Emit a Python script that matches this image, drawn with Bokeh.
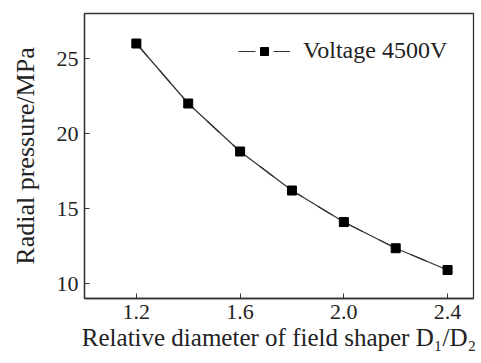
from bokeh.plotting import figure
from bokeh.models import (Range1d, FixedTicker, Legend, LegendItem, NumeralTickFormatter,
                          ColumnDataSource)
from bokeh.embed import file_html
from bokeh.resources import INLINE

ratio = [1.2, 1.4, 1.6, 1.8, 2.0, 2.2, 2.4]
pressure = [26.0, 22.0, 18.8, 16.2, 14.1, 12.35, 10.9]
x_ticks = [1.2, 1.6, 2.0, 2.4]
y_ticks = [10, 15, 20, 25]
series_label = "Voltage 4500V"

FONT = "Liberation Serif"
INK = "#222222"
LINE = "#333333"

src = ColumnDataSource(data=dict(x=ratio, y=pressure))

p = figure(width=481, height=363, output_backend="svg", toolbar_location=None,
           x_range=Range1d(1.0, 2.5), y_range=Range1d(9, 28),
           min_border_left=84, min_border_right=8, min_border_top=13, min_border_bottom=65)
p.grid.visible = False
p.outline_line_color = LINE
p.outline_line_width = 1.3

# dashed copy (hidden under the solid line) only serves as the legend key "— ■ —"
r_key = p.line("x", "y", source=src, line_color=LINE, line_width=1.2, line_dash="17 18")
r_line = p.line("x", "y", source=src, line_color=LINE, line_width=1.2)
r_pts = p.scatter("x", "y", source=src, marker="square", size=9, fill_color="black", line_color="black")

for ax in (p.xaxis[0], p.yaxis[0]):
    ax.major_tick_in = 5
    ax.major_tick_out = 0
    ax.minor_tick_line_color = None
    ax.axis_line_color = LINE
    ax.axis_line_width = 1.3
    ax.major_tick_line_color = LINE
    ax.major_label_text_font = FONT
    ax.major_label_text_font_size = "22px"
    ax.major_label_text_color = INK
    ax.axis_label_text_font = FONT
    ax.axis_label_text_font_style = "normal"
    ax.axis_label_text_color = INK

p.xaxis[0].axis_label_text_font_size = "25px"
p.yaxis[0].axis_label_text_font_size = "26px"
p.xaxis[0].ticker = FixedTicker(ticks=x_ticks)
p.yaxis[0].ticker = FixedTicker(ticks=y_ticks)
p.xaxis[0].formatter = NumeralTickFormatter(format="0.0")
p.xaxis[0].axis_label = "Relative diameter of field shaper D\u2081/D\u2082"
p.yaxis[0].axis_label = "Radial pressure/MPa"
p.xaxis[0].major_label_standoff = 6
p.yaxis[0].major_label_standoff = 6
p.xaxis[0].axis_label_standoff = 2
p.yaxis[0].axis_label_standoff = 14

legend = Legend(items=[LegendItem(label=series_label, renderers=[r_key, r_pts])],
                location=(154, 234), border_line_color=None, background_fill_alpha=0,
                label_text_font=FONT, label_text_font_size="24px", label_text_color=INK,
                glyph_width=52, glyph_height=20, label_height=20,
                label_standoff=13, margin=0, padding=5)
p.add_layout(legend)

open("out.html", "w").write(file_html(p, INLINE))
